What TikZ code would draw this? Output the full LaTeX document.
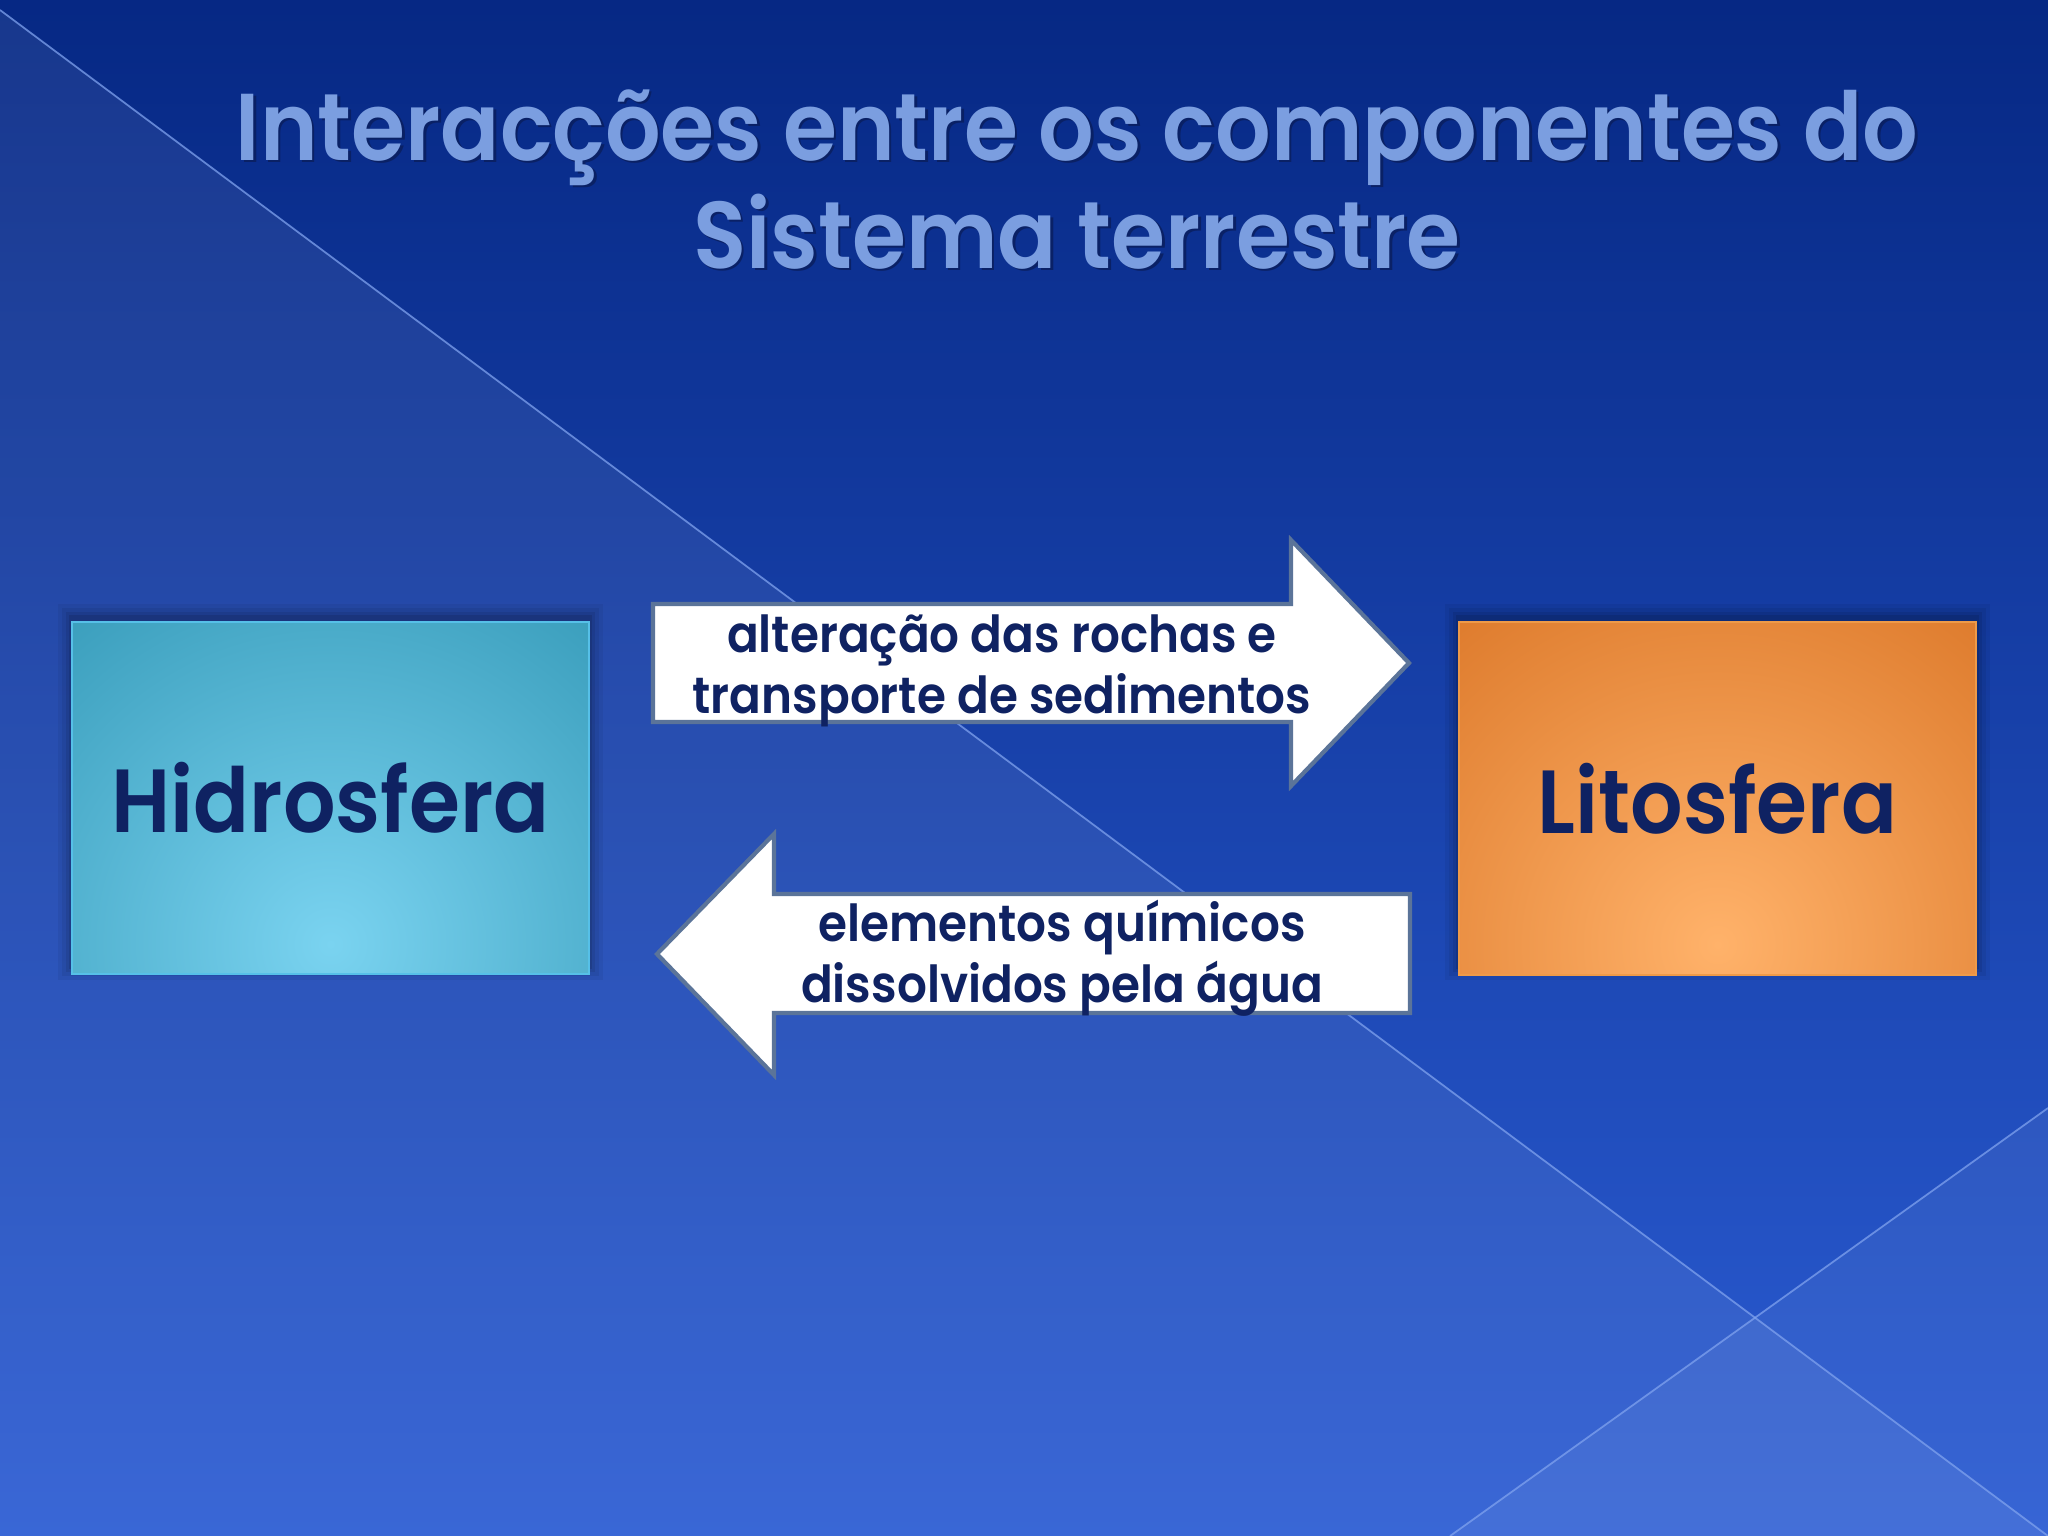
\documentclass[tikz,border=0pt]{standalone}
\usepackage{fontspec}
\setmainfont{Poppins}
\newfontfamily\popsb{Poppins SemiBold}[FakeStretch=0.92]
\definecolor{bgtop}{HTML}{062884}
\definecolor{bgbot}{HTML}{2B5CD3}
\definecolor{lineblue}{HTML}{7FA2EE}
\definecolor{titleblue}{HTML}{7B9EE0}
\definecolor{titleshadow}{HTML}{0A1E5C}
\definecolor{navy}{HTML}{0F2262}
\definecolor{hlight}{HTML}{7AD3F0}
\definecolor{hdark}{HTML}{16809F}
\definecolor{hborder}{HTML}{56C0E8}
\definecolor{llight}{HTML}{FFB26A}
\definecolor{ldark}{HTML}{CB5C0A}
\definecolor{lborder}{HTML}{EE9A48}
\definecolor{arrowborder}{HTML}{5B7499}
\tikzset{
  titletext/.style={font=\popsb\fontsize{27}{32}\selectfont, text=titleblue, anchor=base},
  titleshade/.style={font=\popsb\fontsize{27}{32}\selectfont, text=titleshadow, anchor=base, opacity=0.8},
  sphere/.style={minimum width=5.17cm, minimum height=3.52cm, draw=#1, line width=0.6pt,
     font=\popsb\fontsize{25.5}{30}\selectfont, text=navy},
  arrowtext/.style={font=\popsb\fontsize{14.5}{17}\selectfont, text=navy, anchor=base},
  blockarrow/.style={fill=white, draw=arrowborder, line width=1.2pt, line join=miter},
  every node/.style={inner sep=0pt, outer sep=0pt}
}
\begin{document}
\begin{tikzpicture}[x=0.01cm, y=-0.01cm]
\useasboundingbox (0,0) rectangle (2048,1536);
% background
\shade[top color=bgtop, bottom color=bgbot] (0,0) rectangle (2048,1536);
\fill[white, opacity=0.07] (0,10) -- (2048,1536) -- (0,1536) -- cycle;
\fill[white, opacity=0.06] (2048,1108) -- (2048,1536) -- (1450,1536) -- cycle;
\draw[lineblue, line width=0.5pt, opacity=0.75] (0,10) -- (2048,1536);
\draw[lineblue, line width=0.5pt, opacity=0.75] (2048,1108) -- (1450,1536);
% title
\node[titleshade] (t1s) at (1079.5,162.5) {Interacções entre os componentes do};
\node[titletext] (t1) at (1077,160) {Interacções entre os componentes do};
\node[titleshade] (t2s) at (1079.5,270.5) {Sistema terrestre};
\node[titletext] (t2) at (1077,268) {Sistema terrestre};
% shadows of boxes
\foreach \i/\o in {14/0.05,10/0.06,6/0.08,3/0.1}{
  \fill[black, opacity=\o] (72-\i,622-\i-4) rectangle (589+\i,974+\i-8);
  \fill[black, opacity=\o] (1459-\i,622-\i-4) rectangle (1976+\i,974+\i-8);
}
% boxes
\node[sphere=hborder, fill=hdark,
  path picture={\shade[inner color=hlight, outer color=hdark]
    ([yshift=0.3cm]path picture bounding box.south) circle (6.6cm);}]
  (hidro) at (330.5,798) {Hidrosfera};
\node[sphere=lborder, fill=ldark,
  path picture={\shade[inner color=llight, outer color=ldark]
    ([yshift=0.3cm]path picture bounding box.south) circle (6.6cm);}]
  (lito) at (1717.5,798.5) {Litosfera};
% block arrows
\draw[blockarrow] (653,604) -- (1291,604) -- (1291,540) -- (1409,663)
  -- (1291,786) -- (1291,722) -- (653,722) -- cycle;
\draw[blockarrow] (1410,894) -- (774,894) -- (774,834) -- (657,954)
  -- (774,1075) -- (774,1013) -- (1410,1013) -- cycle;
\node[arrowtext] (a1) at (1002,652) {alteração das rochas e};
\node[arrowtext] (a2) at (1002,713) {transporte de sedimentos};
\node[arrowtext] (b1) at (1062,941) {elementos químicos};
\node[arrowtext] (b2) at (1062,1002) {dissolvidos pela água};
\end{tikzpicture}
\end{document}
